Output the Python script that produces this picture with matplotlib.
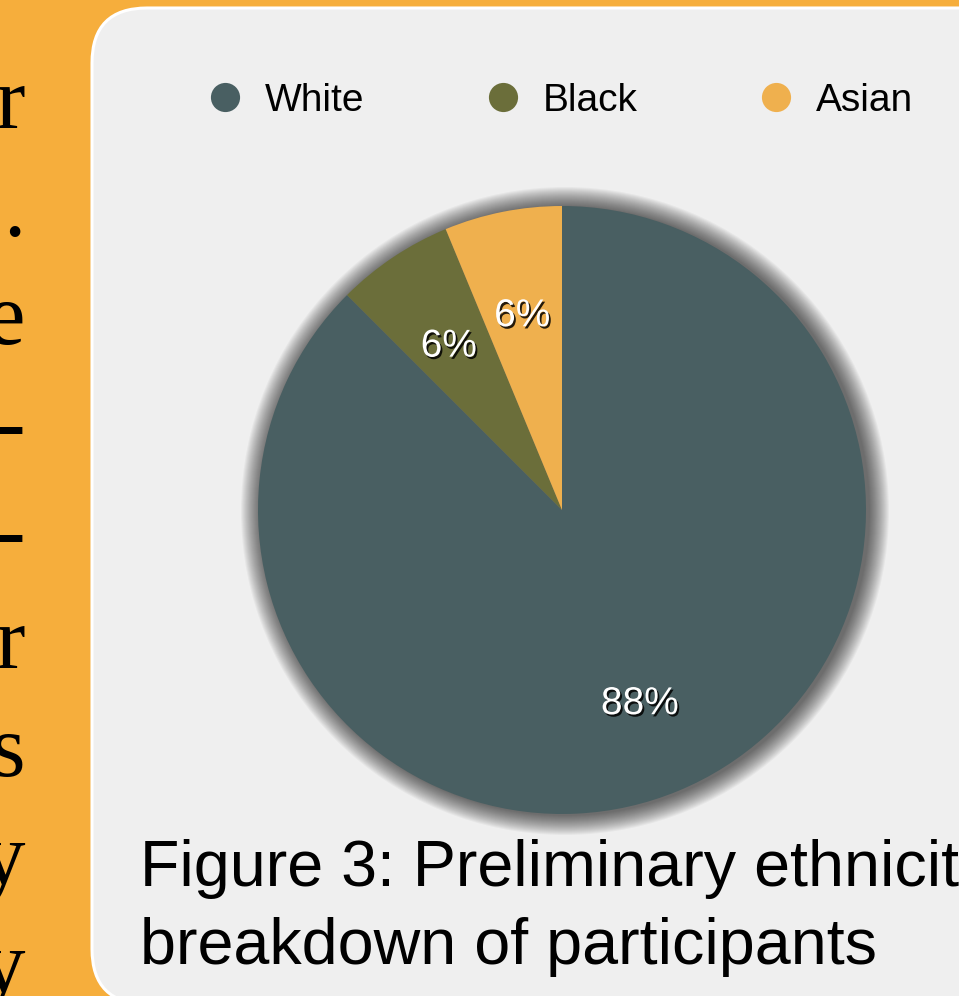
import matplotlib
matplotlib.use('Agg')
import matplotlib.pyplot as plt
import matplotlib.patheffects as pe
from matplotlib.patches import FancyBboxPatch, Circle
from matplotlib.lines import Line2D

# data
groups = ['White', 'Black', 'Asian']
counts = [14, 1, 1]
colors = ['#495f62', '#6b6e3a', '#efb04e']

caption = ['Figure 3: Preliminary ethnicity', 'breakdown of participants']
margin_chars = ['r', '.', 'e', '-', '-', 'r', 's', 'y', 'y']

W, H = 959, 996


def yy(y):
    # image row -> plot y
    return H - y


def main():
    fig = plt.figure(figsize=(W / 100, H / 100), dpi=100)
    fig.set_facecolor('#f6ae3c')
    ax = fig.add_axes([0, 0, 1, 1])
    ax.set_xlim(0, W)
    ax.set_ylim(0, H)
    ax.set_aspect('equal')
    ax.axis('off')

    # clipped column of poster text on the left
    for i, ch in enumerate(margin_chars):
        ax.text(25, yy(128 + 108 * i), ch, ha='right', va='baseline',
                fontsize=64, family='Liberation Serif', color='black')

    # light panel
    panel = FancyBboxPatch((92, yy(1004)), 1000, 996, boxstyle='round,pad=0,rounding_size=55',
                           facecolor='#efefef', edgecolor='white', linewidth=2.2, zorder=1)
    ax.add_patch(panel)

    cx, cy, r = 562, yy(510), 304

    # soft shadow behind the pie
    for k in range(20, 0, -1):
        ax.add_patch(Circle((cx + 3, cy - 1), r + k, facecolor='black',
                            edgecolor='none', alpha=0.035, zorder=2))

    wedges, texts, autotexts = ax.pie(
        counts, colors=colors, startangle=90, counterclock=False,
        center=(cx, cy), radius=r, autopct='%.0f%%', pctdistance=0.67,
        wedgeprops=dict(linewidth=0),
        textprops=dict(color='white', fontsize=28, family='Liberation Sans'))
    for w in wedges:
        w.set_zorder(3)
    for t in autotexts:
        t.set_zorder(4)
        x, y = t.get_position()
        t.set_position((x, y - 6))
        t.set_path_effects([pe.SimplePatchShadow(offset=(1.3, -1.6), shadow_rgbFace='black', alpha=0.85),
                            pe.Normal()])
    ax.set_xlim(0, W)
    ax.set_ylim(0, H)

    handles = [Line2D([], [], linestyle='none', marker='o', markersize=21,
                      markerfacecolor=c, markeredgewidth=0) for c in colors]
    leg = ax.legend(handles, groups, ncol=3, loc='center left',
                    bbox_to_anchor=(205.6, yy(101)), bbox_transform=ax.transData,
                    frameon=False, borderpad=0, borderaxespad=0,
                    handlelength=1.0, handletextpad=0.53, columnspacing=3.05,
                    prop=dict(family='Liberation Sans', size=28))
    leg.set_zorder(5)

    ax.text(140, yy(886), caption[0], ha='left', va='baseline', fontsize=46.5,
            family='Liberation Sans', color='black', zorder=5)
    ax.text(140, yy(964), caption[1], ha='left', va='baseline', fontsize=46.5,
            family='Liberation Sans', color='black', zorder=5)

    fig.savefig('out.png', dpi=100, facecolor=fig.get_facecolor())


if __name__ == '__main__':
    main()
